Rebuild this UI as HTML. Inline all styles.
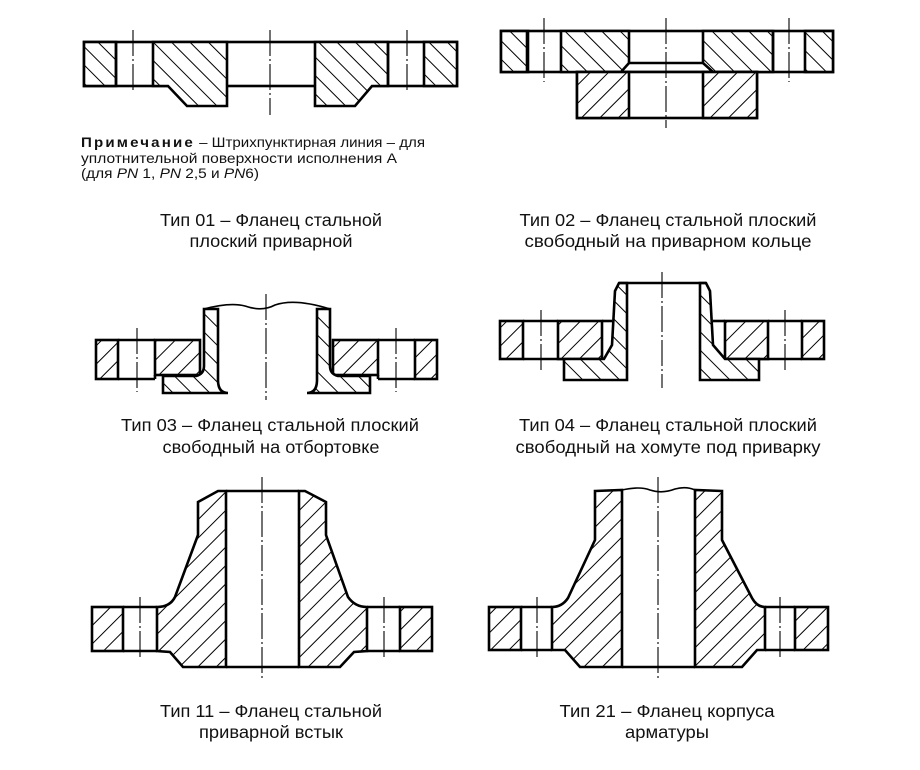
<!DOCTYPE html>
<html><head><meta charset="utf-8"><style>
html,body{margin:0;padding:0;background:#fff}
svg{display:block}
text{font-family:"Liberation Sans",sans-serif;fill:#111}
</style></head><body>
<svg width="920" height="770" viewBox="0 0 920 770" xmlns="http://www.w3.org/2000/svg">
<defs>
<pattern id="hf" patternUnits="userSpaceOnUse" width="13" height="13" patternTransform="rotate(45)">
<rect width="13" height="13" fill="#fff"/><line x1="0" y1="0" x2="0" y2="13" stroke="#000" stroke-width="2"/></pattern>
<pattern id="hb" patternUnits="userSpaceOnUse" width="13" height="13" patternTransform="rotate(-45)">
<rect width="13" height="13" fill="#fff"/><line x1="0" y1="0" x2="0" y2="13" stroke="#000" stroke-width="2"/></pattern>
</defs>
<g stroke="#000" stroke-width="2.6" stroke-linejoin="miter">
<!-- Fig 01 -->
<rect x="84" y="42" width="373" height="44" fill="#fff"/>
<rect x="84" y="42" width="32" height="44" fill="url(#hb)"/>
<rect x="424" y="42" width="33" height="44" fill="url(#hb)"/>
<polygon points="153,42 227,42 227,106 187,106 168,86 153,86" fill="url(#hb)"/>
<polygon points="315,42 388,42 388,86 372,86 355,106 315,106" fill="url(#hb)"/>
<line x1="116" y1="42" x2="116" y2="86"/><line x1="388" y1="42" x2="388" y2="86"/>
<!-- Fig 02 -->
<rect x="501" y="31" width="332" height="41" fill="#fff"/>
<rect x="501" y="31" width="27" height="41" fill="url(#hb)"/>
<rect x="805" y="31" width="28" height="41" fill="url(#hb)"/>
<polygon points="561,31 629,31 629,63 621,72 561,72" fill="url(#hb)"/>
<polygon points="703,31 773,31 773,72 713,72 703,63" fill="url(#hb)"/>
<line x1="629" y1="63" x2="703" y2="63"/>
<line x1="527" y1="31" x2="527" y2="72"/><line x1="773" y1="31" x2="773" y2="72"/>
<rect x="577" y="72" width="180" height="46" fill="#fff"/>
<rect x="577" y="72" width="52" height="46" fill="url(#hf)"/>
<rect x="703" y="72" width="54" height="46" fill="url(#hf)"/>
<!-- Fig 03 -->
<rect x="96" y="340" width="22" height="39" fill="url(#hf)"/>
<line x1="118" y1="340" x2="155" y2="340"/><line x1="118" y1="379" x2="155" y2="379"/>
<rect x="155" y="340" width="45" height="35" fill="url(#hf)"/>
<line x1="155" y1="375" x2="155" y2="379"/>
<rect x="415" y="340" width="22" height="39" fill="url(#hf)"/>
<line x1="378" y1="340" x2="415" y2="340"/><line x1="378" y1="379" x2="415" y2="379"/>
<rect x="333" y="340" width="45" height="35" fill="url(#hf)"/>
<line x1="378" y1="375" x2="378" y2="379"/>
<path d="M204,309 L218,309 L218,380 Q218,393 228,393 L163,393 L163,376 L196,376 Q204,374 204,366 Z" fill="url(#hb)"/>
<path d="M330,309 L317,309 L317,380 Q317,393 307,393 L370,393 L370,376 L338,376 Q330,374 330,366 Z" fill="url(#hb)"/>
<path d="M204,309 Q230,302 245,306 Q262,312 275,305 Q295,298 330,309" fill="none" stroke-width="1.6"/>
<!-- Fig 04 -->
<rect x="500" y="321" width="23" height="38" fill="url(#hf)"/>
<line x1="523" y1="321" x2="558" y2="321"/><line x1="523" y1="359" x2="564" y2="359"/>
<rect x="558" y="321" width="44" height="38" fill="url(#hf)"/>
<rect x="802" y="321" width="22" height="38" fill="url(#hf)"/>
<line x1="768" y1="321" x2="802" y2="321"/><line x1="759" y1="359" x2="802" y2="359"/>
<rect x="725" y="321" width="43" height="38" fill="url(#hf)"/>
<polygon points="619,283 627,283 627,380 564,380 564,359 604,359 612,345 615,291" fill="url(#hb)"/>
<polygon points="700,283 706,283 710,291 713,345 725,359 759,359 759,380 700,380" fill="url(#hb)"/>
<line x1="619" y1="283" x2="706" y2="283"/>
<line x1="602" y1="321" x2="612" y2="321"/><line x1="713" y1="321" x2="725" y2="321"/>
<!-- Fig 11 -->
<rect x="92" y="607" width="31" height="44" fill="url(#hf)"/>
<line x1="123" y1="607" x2="157" y2="607"/><line x1="123" y1="651" x2="157" y2="651"/>
<path d="M218,491 L226,491 L226,667 L183,667 L170,652 L157,651 L157,607 Q170,607 175,597 L198,535 L198,502 Z" fill="url(#hf)"/>
<rect x="400" y="607" width="32" height="44" fill="url(#hf)"/>
<line x1="367" y1="607" x2="400" y2="607"/><line x1="367" y1="651" x2="400" y2="651"/>
<path d="M305,491 L299,491 L299,667 L340,667 L354,652 L367,651 L367,607 Q355,607 348,597 L326,535 L326,502 Z" fill="url(#hf)"/>
<line x1="226" y1="491" x2="299" y2="491"/><line x1="226" y1="667" x2="299" y2="667"/>
<!-- Fig 21 -->
<rect x="489" y="607" width="32" height="43" fill="url(#hf)"/>
<line x1="521" y1="607" x2="552" y2="607"/><line x1="521" y1="650" x2="552" y2="650"/>
<path d="M595,491 L622,490 L622,667 L580,667 L565,650 L552,650 L552,607 Q562,607 568,598 L595,540 Z" fill="url(#hf)"/>
<rect x="795" y="607" width="33" height="43" fill="url(#hf)"/>
<line x1="765" y1="607" x2="795" y2="607"/><line x1="765" y1="650" x2="795" y2="650"/>
<path d="M722,491 L695,490 L695,667 L742,667 L757,650 L765,650 L765,607 Q757,607 752,598 L722,540 Z" fill="url(#hf)"/>
<path d="M622,490 Q640,486 650,490 Q662,494 675,489 Q686,486 695,490" fill="none" stroke-width="1.6"/>
<line x1="622" y1="667" x2="695" y2="667"/>
</g>
<!-- center lines -->
<g stroke="#000" stroke-width="1.1" stroke-dasharray="26,3,2,3" fill="none">
<line x1="133" y1="30" x2="133" y2="92"/><line x1="270" y1="30" x2="270" y2="115"/><line x1="407" y1="30" x2="407" y2="92"/>
<line x1="544" y1="18" x2="544" y2="82"/><line x1="666" y1="18" x2="666" y2="128"/><line x1="789" y1="18" x2="789" y2="82"/>
<line x1="137" y1="328" x2="137" y2="392"/><line x1="266" y1="294" x2="266" y2="400"/><line x1="396" y1="328" x2="396" y2="392"/>
<line x1="541" y1="310" x2="541" y2="370"/><line x1="662" y1="272" x2="662" y2="388"/><line x1="785" y1="310" x2="785" y2="370"/>
<line x1="140" y1="597" x2="140" y2="660"/><line x1="262" y1="477" x2="262" y2="678"/><line x1="384" y1="597" x2="384" y2="660"/>
<line x1="537" y1="597" x2="537" y2="660"/><line x1="658" y1="477" x2="658" y2="678"/><line x1="780" y1="597" x2="780" y2="660"/>
</g>
<line x1="227" y1="86" x2="315" y2="86" stroke="#000" stroke-width="1.3" stroke-dasharray="12,3,2,3"/>
<!-- note -->
<g font-size="14">
<text x="81" y="147" textLength="344" lengthAdjust="spacingAndGlyphs"><tspan font-weight="bold" letter-spacing="2">Примечание</tspan> – Штрихпунктирная линия – для</text>
<text x="81" y="163" textLength="316" lengthAdjust="spacingAndGlyphs">уплотнительной поверхности исполнения А</text>
<text x="81" y="178" textLength="178" lengthAdjust="spacingAndGlyphs">(для <tspan font-style="italic">PN</tspan> 1, <tspan font-style="italic">PN</tspan> 2,5 и <tspan font-style="italic">PN</tspan>6)</text>
</g>
<!-- captions -->
<g font-size="17.5" text-anchor="middle">
<text x="271" y="226" textLength="222" lengthAdjust="spacingAndGlyphs">Тип 01 – Фланец стальной</text>
<text x="271" y="247" textLength="163" lengthAdjust="spacingAndGlyphs">плоский приварной</text>
<text x="668" y="226" textLength="297" lengthAdjust="spacingAndGlyphs">Тип 02 – Фланец стальной плоский</text>
<text x="668" y="247" textLength="287" lengthAdjust="spacingAndGlyphs">свободный на приварном кольце</text>
<text x="270" y="431" textLength="298" lengthAdjust="spacingAndGlyphs">Тип 03 – Фланец стальной плоский</text>
<text x="271" y="453" textLength="217" lengthAdjust="spacingAndGlyphs">свободный на отбортовке</text>
<text x="668" y="431" textLength="298" lengthAdjust="spacingAndGlyphs">Тип 04 – Фланец стальной плоский</text>
<text x="668" y="453" textLength="305" lengthAdjust="spacingAndGlyphs">свободный на хомуте под приварку</text>
<text x="271" y="717" textLength="222" lengthAdjust="spacingAndGlyphs">Тип 11 – Фланец стальной</text>
<text x="271" y="738" textLength="144" lengthAdjust="spacingAndGlyphs">приварной встык</text>
<text x="667" y="717" textLength="215" lengthAdjust="spacingAndGlyphs">Тип 21 – Фланец корпуса</text>
<text x="667" y="738" textLength="84" lengthAdjust="spacingAndGlyphs">арматуры</text>
</g>
</svg>
</body></html>
